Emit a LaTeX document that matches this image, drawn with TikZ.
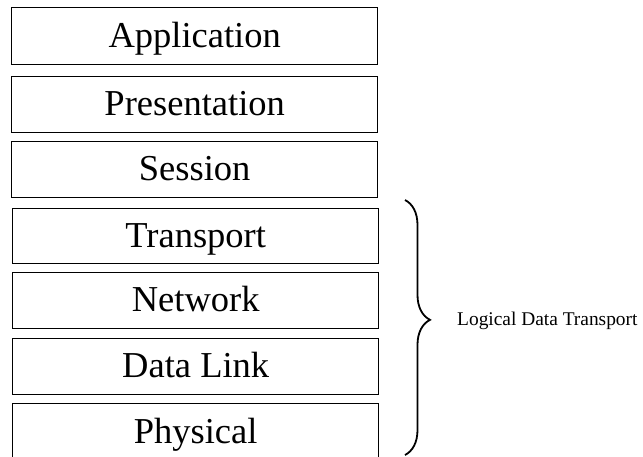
\documentclass[tikz,border=0pt]{standalone}
\usepackage{fontspec}
\setmainfont{Liberation Serif}
\usetikzlibrary{decorations.pathreplacing}
\begin{document}
\begin{tikzpicture}[x=1pt,y=-1pt,
  layer/.style={draw, line width=1.4pt, rectangle, anchor=north west,
    inner sep=0pt, minimum width=366pt, minimum height=56pt,
    font=\fontsize{36.5}{40}\selectfont, text height=30pt, text depth=8pt},
  bracestyle/.style={line width=1.8pt,
    decorate, decoration={brace, amplitude=25pt, aspect=0.47}}]
\clip (0,0) rectangle (643,456);
\useasboundingbox (0,0) rectangle (643,456);
% protocol stack, top to bottom
\node[layer, minimum height=57pt] (app)  at (11,7)   {Application};
\node[layer] (pres) at (11,76)  {Presentation};
\node[layer] (sess) at (11,141) {Session};
\node[layer, minimum height=55pt] (trans) at (12,208) {Transport};
\node[layer] (net)  at (12,272) {Network};
\node[layer] (dl)   at (12,338) {Data Link};
\node[layer, minimum height=58pt] (phys) at (12,403) {Physical};
% brace over the lower four layers
\coordinate (btop) at (405,200);
\coordinate (bbot) at (405,455);
\draw[bracestyle] (btop) -- (bbot);
\node[anchor=west, font=\fontsize{19.4}{22}\selectfont, inner sep=0pt]
  (ldt) at (457,321) {Logical Data Transport};
\end{tikzpicture}
\end{document}
